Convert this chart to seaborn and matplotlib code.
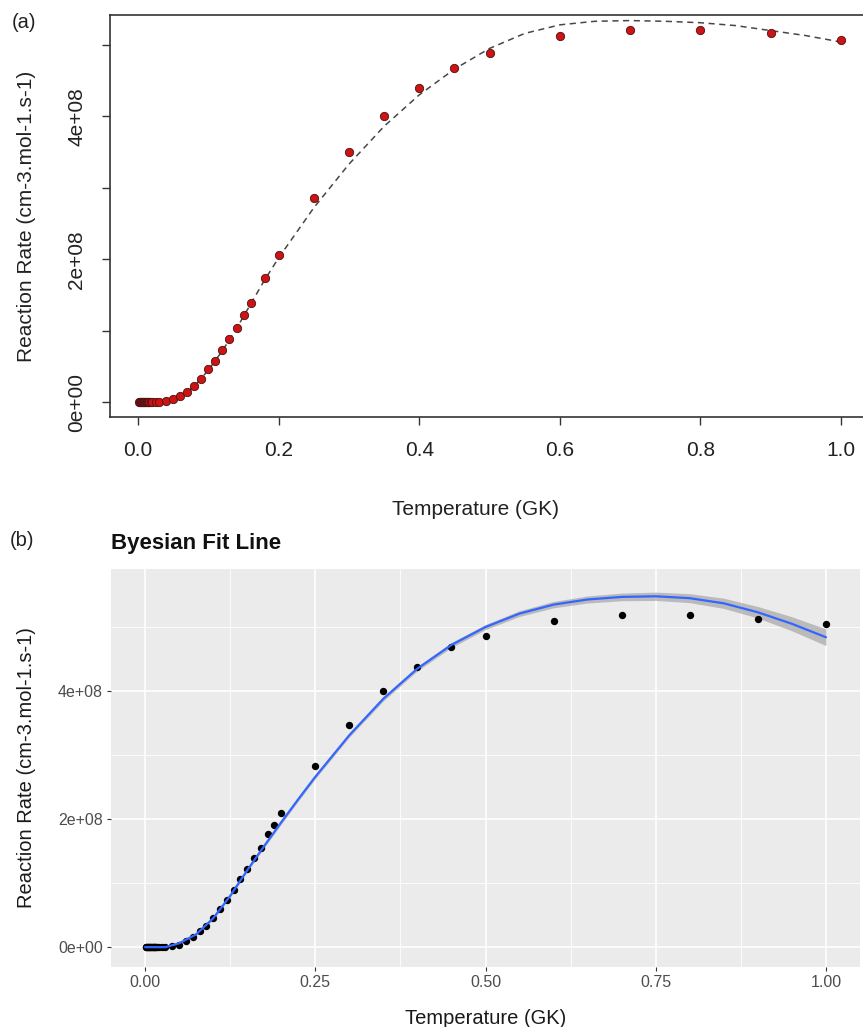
import numpy as np
import matplotlib
matplotlib.use("Agg")
import matplotlib.pyplot as plt
import seaborn as sns

# CONFIGURATION
sns.set_theme(style="white")
plt.rcParams['font.family'] = ['Liberation Sans', 'DejaVu Sans']
SCALE = 1e8  # rates below are in units of 1e8 cm-3.mol-1.s-1

# --- DATA: panel (a), tabulated rate ---
temp_a = [0.001, 0.002, 0.003, 0.004, 0.005, 0.006, 0.007, 0.008, 0.009, 0.010,
          0.011, 0.012, 0.013, 0.014, 0.015, 0.016, 0.018, 0.020, 0.025, 0.030,
          0.04, 0.05, 0.06, 0.07, 0.08, 0.09, 0.10, 0.11, 0.12, 0.13, 0.14, 0.15,
          0.16, 0.18, 0.20, 0.25, 0.30, 0.35, 0.40, 0.45, 0.50, 0.60, 0.70, 0.80,
          0.90, 1.00]
rate_a = [0.0, 0.0, 0.0, 0.0, 0.0, 0.0, 0.0, 0.0, 0.0, 0.0,
          0.0, 0.0, 0.0, 0.0, 0.0, 0.0, 0.0, 0.0, 0.0, 0.0,
          0.02, 0.045, 0.085, 0.14, 0.225, 0.32, 0.46, 0.58, 0.73, 0.885, 1.04, 1.22,
          1.39, 1.74, 2.06, 2.85, 3.50, 4.00, 4.40, 4.68, 4.89, 5.13, 5.21, 5.21,
          5.17, 5.07]

# dashed fit curve, panel (a)
fit_a_temp = [0.0, 0.02, 0.04, 0.06, 0.08, 0.10, 0.12, 0.14, 0.16, 0.18, 0.20,
              0.25, 0.30, 0.35, 0.40, 0.45, 0.50, 0.55, 0.60, 0.65, 0.70, 0.75,
              0.80, 0.85, 0.90, 0.95, 1.00]
fit_a_rate = [0.0, 0.0, 0.02, 0.08, 0.22, 0.45, 0.72, 1.03, 1.37, 1.71, 2.02,
              2.72, 3.33, 3.86, 4.30, 4.66, 4.95, 5.16, 5.28, 5.33, 5.34, 5.33,
              5.31, 5.27, 5.20, 5.13, 5.04]

# --- DATA: panel (b), Bayesian fit ---
temp_b = [0.001, 0.002, 0.003, 0.004, 0.005, 0.006, 0.007, 0.008, 0.009, 0.010,
          0.011, 0.012, 0.013, 0.014, 0.015, 0.016, 0.018, 0.020, 0.025, 0.030,
          0.04, 0.05, 0.06, 0.07, 0.08, 0.09, 0.10, 0.11, 0.12, 0.13, 0.14, 0.15,
          0.16, 0.17, 0.18, 0.19, 0.20, 0.25, 0.30, 0.35, 0.40, 0.45, 0.50, 0.60,
          0.70, 0.80, 0.90, 1.00]
rate_b = [0.0, 0.0, 0.0, 0.0, 0.0, 0.0, 0.0, 0.0, 0.0, 0.0,
          0.0, 0.0, 0.0, 0.0, 0.0, 0.0, 0.0, 0.0, 0.0, 0.0,
          0.02, 0.04, 0.09, 0.16, 0.25, 0.33, 0.46, 0.60, 0.73, 0.89, 1.06, 1.22,
          1.39, 1.55, 1.76, 1.90, 2.09, 2.83, 3.47, 4.00, 4.37, 4.69, 4.86, 5.09,
          5.19, 5.19, 5.12, 5.05]

fit_b_temp = [0.0, 0.03, 0.05, 0.075, 0.10, 0.125, 0.15, 0.175, 0.20, 0.225, 0.25,
              0.30, 0.35, 0.40, 0.45, 0.50, 0.55, 0.60, 0.65, 0.70, 0.75, 0.80,
              0.85, 0.90, 0.95, 1.00]
fit_b_rate = [0.0, 0.0, 0.06, 0.20, 0.45, 0.80, 1.20, 1.58, 1.95, 2.31, 2.66,
              3.31, 3.88, 4.35, 4.72, 5.00, 5.21, 5.35, 5.43, 5.47, 5.48, 5.45,
              5.37, 5.23, 5.05, 4.84]
fit_b_band = [0.0, 0.0, 0.01, 0.015, 0.02, 0.02, 0.025, 0.025, 0.03, 0.03, 0.03,
              0.03, 0.035, 0.035, 0.04, 0.04, 0.045, 0.05, 0.055, 0.06, 0.065, 0.07,
              0.08, 0.09, 0.11, 0.13]

W, H = 863, 1027
fig = plt.figure(figsize=(W / 100, H / 100), dpi=100)


def px_axes(left, top, right, bottom):
    return fig.add_axes([left / W, 1 - bottom / H, (right - left) / W, (bottom - top) / H])


# --- PANEL (a): base-R look ---
ax_a = px_axes(110, 15, 869, 417)
sns.lineplot(x=np.array(fit_a_temp), y=np.array(fit_a_rate) * SCALE, ax=ax_a,
             color='#474747', linewidth=1.1, linestyle=(0, (4, 3)))
sns.scatterplot(x=np.array(temp_a), y=np.array(rate_a) * SCALE, ax=ax_a,
                color='#cc1414', edgecolor='#4a1212', linewidth=0.6, s=36, zorder=3)

ax_a.set_xlim(-0.04, 1.04)
ax_a.set_ylim(-0.208 * SCALE, 5.418 * SCALE)
ax_a.set_xticks([0.0, 0.2, 0.4, 0.6, 0.8, 1.0])
ax_a.set_xticklabels(['0.0', '0.2', '0.4', '0.6', '0.8', '1.0'])
ax_a.set_yticks([0, 1e8, 2e8, 3e8, 4e8, 5e8])
ax_a.set_yticklabels(['0e+00', '', '2e+08', '', '4e+08', ''], rotation=90, va='center')
ax_a.tick_params(axis='both', direction='out', length=6, width=1.0, color='#333333',
                 labelsize=15, labelcolor='#222222', left=True, bottom=True)
ax_a.tick_params(axis='x', pad=11)
ax_a.tick_params(axis='y', pad=11)
for sp in ax_a.spines.values():
    sp.set_color('#333333')
    sp.set_linewidth(1.2)

ax_a.set_xlabel('Temperature (GK)', fontsize=15, color='#222222')
ax_a.xaxis.set_label_coords((475 - 110) / 759, (417 - 510) / 402)
ax_a.xaxis.label.set_va('center')
ax_a.set_ylabel('Reaction Rate (cm-3.mol-1.s-1)', fontsize=15, color='#222222')
ax_a.yaxis.set_label_coords((27 - 110) / 759, 0.5)
ax_a.yaxis.label.set_va('center')

# --- PANEL (b): ggplot look ---
ax_b = px_axes(111, 569, 860, 967)
ax_b.set_facecolor('#EBEBEB')
lower = (np.array(fit_b_rate) - np.array(fit_b_band)) * SCALE
upper = (np.array(fit_b_rate) + np.array(fit_b_band)) * SCALE
ax_b.fill_between(fit_b_temp, lower, upper, color='#A6A6A6', alpha=0.7, linewidth=0, zorder=2)
sns.scatterplot(x=np.array(temp_b), y=np.array(rate_b) * SCALE, ax=ax_b,
                color='black', edgecolor='black', linewidth=0, s=28, zorder=3)
sns.lineplot(x=np.array(fit_b_temp), y=np.array(fit_b_rate) * SCALE, ax=ax_b,
             color='#3366FF', linewidth=1.6, zorder=4)

ax_b.set_xlim(-0.05, 1.05)
ax_b.set_ylim(-0.31 * SCALE, 5.906 * SCALE)
ax_b.set_xticks([0.0, 0.25, 0.5, 0.75, 1.0])
ax_b.set_xticklabels(['0.00', '0.25', '0.50', '0.75', '1.00'])
ax_b.set_xticks([0.125, 0.375, 0.625, 0.875], minor=True)
ax_b.set_yticks([0, 2e8, 4e8])
ax_b.set_yticklabels(['0e+00', '2e+08', '4e+08'])
ax_b.set_yticks([1e8, 3e8, 5e8], minor=True)
ax_b.tick_params(axis='both', which='major', direction='out', length=3, width=0.8,
                 color='#333333', labelsize=11.5, labelcolor='#4D4D4D', pad=3,
                 left=True, bottom=True)
ax_b.tick_params(axis='both', which='minor', length=0)
ax_b.grid(which='major', color='white', linewidth=1.2)
ax_b.grid(which='minor', color='white', linewidth=0.6)
ax_b.set_axisbelow(True)
for sp in ax_b.spines.values():
    sp.set_visible(False)

ax_b.set_xlabel('Temperature (GK)', fontsize=14.5, color='#1a1a1a')
ax_b.xaxis.set_label_coords(0.5, (967 - 1018) / 398)
ax_b.xaxis.label.set_va('center')
ax_b.set_ylabel('Reaction Rate (cm-3.mol-1.s-1)', fontsize=14.5, color='#1a1a1a')
ax_b.yaxis.set_label_coords((27 - 111) / 749, 0.5)
ax_b.yaxis.label.set_va('center')
ax_b.text(0.0, (967 - 543) / 398, 'Byesian Fit Line', transform=ax_b.transAxes,
          fontsize=16, fontweight='bold', ha='left', va='center', color='#111111')

# panel tags
fig.text(12 / W, 1 - 23 / H, '(a)', fontsize=14.5, va='center', ha='left', color='#222222')
fig.text(10 / W, 1 - 540 / H, '(b)', fontsize=14.5, va='center', ha='left', color='#222222')

fig.savefig('out.png', dpi=100)
